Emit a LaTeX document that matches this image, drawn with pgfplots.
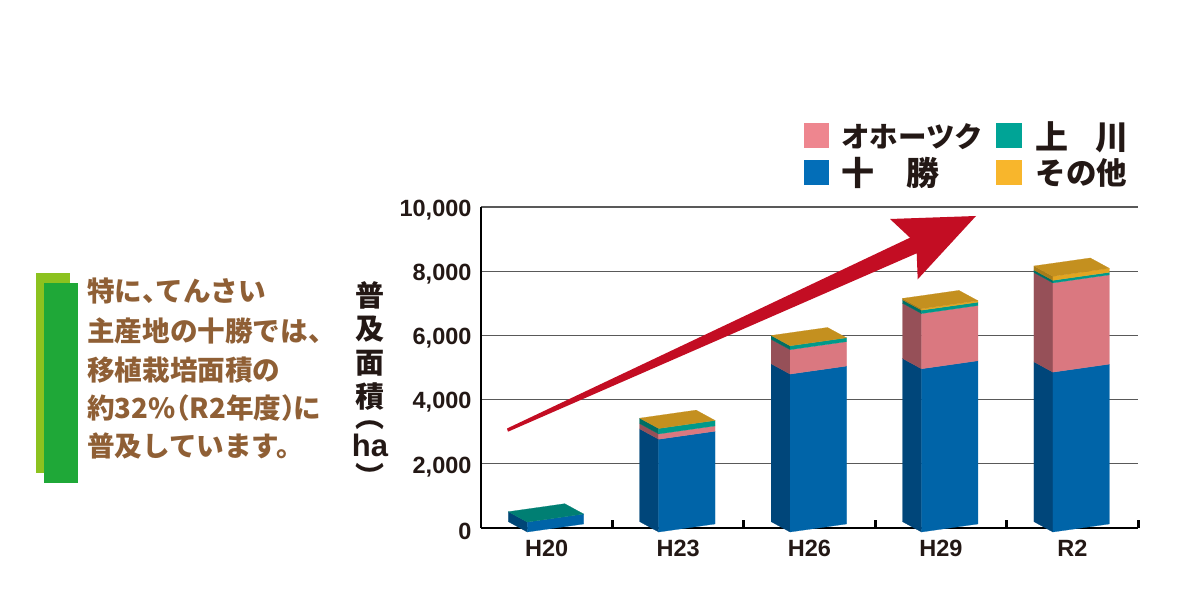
\documentclass[border=0pt]{standalone}
\usepackage{fontspec}
\usepackage{graphicx}
\usepackage{pgfplots}
\pgfplotsset{compat=1.18}
\setmainfont{Liberation Sans}
\newfontfamily\jp{Noto Sans CJK JP}

\definecolor{ink}{HTML}{231815}
\definecolor{swpink}{HTML}{EE868F}
\definecolor{swteal}{HTML}{00A496}
\definecolor{swblue}{HTML}{036EB8}
\definecolor{swgold}{HTML}{F8B62C}
\definecolor{bluef}{HTML}{0064A8}
\definecolor{blues}{HTML}{00467A}
\definecolor{pinkf}{HTML}{DA7880}
\definecolor{pinks}{HTML}{965058}
\definecolor{tealf}{HTML}{00998A}
\definecolor{teals}{HTML}{006E64}
\definecolor{goldf}{HTML}{E3A521}
\definecolor{golds}{HTML}{A87C1A}
\definecolor{goldt}{HTML}{C4901F}
\definecolor{tealt}{HTML}{007F73}
\definecolor{brown}{HTML}{8F5F35}
\definecolor{lightgreen}{HTML}{8CC21F}
\definecolor{darkgreen}{HTML}{1FA838}
\definecolor{arrowred}{HTML}{C30D23}

% one layer of a bar: category, from, to, front colour, side colour
\newcommand{\layer}[5]{%
  \pgfmathsetmacro{\xa}{#1-38.4/131.4}%
  \pgfmathsetmacro{\xb}{#1-19.4/131.4}%
  \pgfmathsetmacro{\xc}{#1+37/131.4}%
  \pgfmathsetmacro{\la}{#2+197}\pgfmathsetmacro{\lb}{#3+197}%
  \pgfmathsetmacro{\fa}{#2-125}\pgfmathsetmacro{\fb}{#3-125}%
  \pgfmathsetmacro{\ra}{#2+125}\pgfmathsetmacro{\rb}{#3+125}%
  \edef\tmp{\noexpand\addplot[forget plot,fill=#5,draw=#5,line width=0.2pt]
    coordinates {(\xa,\la) (\xb,\fa) (\xb,\fb) (\xa,\lb) (\xa,\la)};
    \noexpand\addplot[forget plot,fill=#4,draw=#4,line width=0.2pt]
    coordinates {(\xb,\fa) (\xc,\ra) (\xc,\rb) (\xb,\fb) (\xb,\fa)};}%
  \tmp}
% top face of a bar: category, total, colour
\newcommand{\topface}[3]{%
  \pgfmathsetmacro{\xa}{#1-38.4/131.4}%
  \pgfmathsetmacro{\xb}{#1-19.4/131.4}%
  \pgfmathsetmacro{\xc}{#1+37/131.4}%
  \pgfmathsetmacro{\xd}{#1+18/131.4}%
  \pgfmathsetmacro{\la}{#2+197}\pgfmathsetmacro{\fa}{#2-125}%
  \pgfmathsetmacro{\ra}{#2+125}\pgfmathsetmacro{\ba}{#2+447}%
  \edef\tmp{\noexpand\addplot[forget plot,fill=#3,draw=#3,line width=0.2pt]
    coordinates {(\xa,\la) (\xb,\fa) (\xc,\ra) (\xd,\ba) (\xa,\la)};}%
  \tmp}
% a cell of the vertical label: its content, then the distance to the next baseline
\newcommand{\vcell}[2]{\hbox to 40pt{\hss\raisebox{0pt}[0pt][0pt]{#1}\hss}\kern#2\relax}

\begin{document}
\begin{tikzpicture}[x=1pt,y=1pt]
\fill[white] (0,0) rectangle (1200,600);

\fill[lightgreen] (36,127) rectangle (69.5,327);
\fill[darkgreen] (44,117) rectangle (77.5,317);
\begin{scope}[every node/.style={anchor=base west,inner sep=0pt,text=brown,font=\jp\bfseries\fontsize{27.6}{27.6}\selectfont}]
\node at (87,298) {特に\makebox[13pt][l]{、}てんさい};
\node at (87,258) {主産地の十勝では、};
\node at (87,219.6) {移植栽培面積の};
\node at (87,181.6) {約\makebox[60pt][s]{3\hfill 2\hfill\%}\hspace{3pt}\makebox[12pt][r]{（}R2年度\makebox[12pt][l]{）}に};
\node at (87,143) {普及しています。};
\end{scope}

\begin{axis}[
  at={(481pt,72pt)}, anchor=south west,
  scale only axis, width=657pt, height=321pt,
  clip=false,
  xmin=-0.5, xmax=4.5, ymin=0, ymax=10000,
  axis x line=bottom, axis y line=left,
  axis line style={-,line width=2.6pt,color=black},
  xtick={0,1,2,3,4},
  xticklabels={H20,H23,H26,H29,R2},
  minor xtick={0.5,1.5,2.5,3.5,4.5},
  major tick length=0pt, minor tick length=8pt,
  tick align=inside,
  minor tick style={line width=3pt,color=black},
  ytick={0,2000,4000,6000,8000,10000},
  ymajorgrids,
  major grid style={line width=1.1pt,color=black!65},
  /pgf/number format/assume math mode=true,
  /pgf/number format/1000 sep={,},
  scaled y ticks=false,
  tick label style={font=\bfseries\fontsize{23.5}{23.5}\selectfont,text=ink},
  xticklabel style={yshift=-9pt},
  yticklabel style={xshift=-6pt,yshift=-3pt},
  ylabel={\vbox{\offinterlineskip
    \vcell{普}{32.5pt}\vcell{及}{34pt}\vcell{面}{34pt}\vcell{積}{20pt}%
    \vcell{︵}{29pt}\vcell{{\fontspec{Liberation Sans Bold}\fontsize{31}{31}\selectfont ha}}{31pt}\vcell{︶}{0pt}}},
  ylabel style={rotate=-90,anchor=center,at={(-111pt,0.408)},inner sep=0pt,
    font=\jp\bfseries\fontsize{29}{29}\selectfont,text=ink},
  legend columns=2,
  legend cell align=left,
  legend image code/.code={\fill[draw=none,#1] (0pt,-12.5pt) rectangle (25.5pt,12.5pt);},
  legend style={at={(0.4916,1.265)},anchor=north west,draw=none,fill=none,
    inner sep=0pt,outer sep=0pt,
    nodes={inner sep=0pt,text=ink,font=\jp\bfseries\fontsize{30.5}{30.5}\selectfont},
    /tikz/column 1/.style={column sep=12pt},
    /tikz/column 2/.style={column sep=17pt},
    /tikz/column 3/.style={column sep=14pt},
    /tikz/row sep=8pt},
]
\addlegendimage{fill=swpink,draw=none}
\addlegendimage{fill=swteal,draw=none}
\addlegendimage{fill=swblue,draw=none}
\addlegendimage{fill=swgold,draw=none}
\addlegendentry{\makebox[138pt][l]{\raisebox{-2pt}{\fontsize{28.5}{28.5}\selectfont オホーツク}}}
\addlegendentry{\makebox[93pt][l]{\raisebox{-2pt}{\fontsize{33}{33}\selectfont 上}\hfill\raisebox{-2pt}{\fontsize{33}{33}\selectfont 川}}}
\addlegendentry{\makebox[138pt][l]{\makebox[98pt][l]{\fontsize{33}{33}\selectfont 十\hfill 勝}}}
\addlegendentry{\makebox[93pt][l]{その他}}

% H20
\layer{0}{0}{310}{bluef}{bluef!70!black}
\topface{0}{310}{tealt}
% H23
\layer{1}{0}{2890}{bluef}{blues}
\layer{1}{2890}{3055}{pinkf}{pinks}
\layer{1}{3055}{3225}{tealf}{teals}
\topface{1}{3225}{goldt}
% H26
\layer{2}{0}{4920}{bluef}{blues}
\layer{2}{4920}{5680}{pinkf}{pinks}
\layer{2}{5680}{5800}{tealf}{teals}
\topface{2}{5800}{goldt}
% H29
\layer{3}{0}{5085}{bluef}{blues}
\layer{3}{5085}{6805}{pinkf}{pinks}
\layer{3}{6805}{6910}{tealf}{teals}
\layer{3}{6910}{6955}{goldf}{golds}
\topface{3}{6955}{goldt}
% R2
\layer{4}{0}{4980}{bluef}{blues}
\layer{4}{4980}{7760}{pinkf}{pinks}
\layer{4}{7760}{7840}{tealf}{teals}
\layer{4}{7840}{7965}{goldf}{golds}
\topface{4}{7965}{goldt}
\end{axis}

% rising arrow
\fill[arrowred]
  (507,171.5) -- (910,362.3) -- (890,381) -- (976,384) -- (917.7,320.7)
  -- (916.7,346.7) -- (508,168.3) -- cycle;
\end{tikzpicture}
\end{document}
